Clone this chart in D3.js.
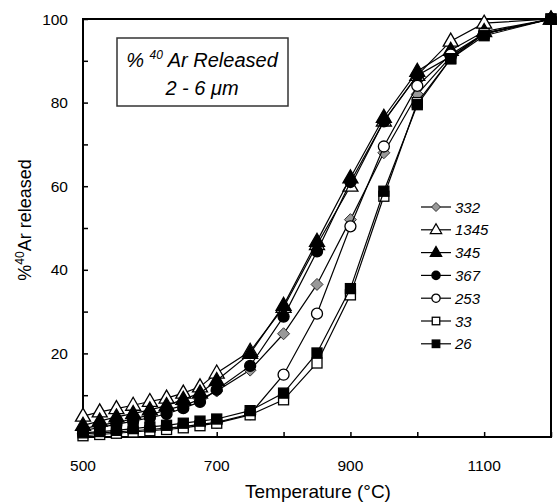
<!DOCTYPE html>
<html>
<head>
<meta charset="utf-8">
<script src="https://cdn.jsdelivr.net/npm/d3@7"></script>
<style>
  body { margin: 0; background: #fff; }
  svg { display: block; font-family: "Liberation Sans", Arial, sans-serif; }
</style>
</head>
<body>
<svg id="chart" width="557" height="502"></svg>
<script>
// temperatures of each heating step (°C)
const temps = [500, 525, 550, 575, 600, 625, 650, 675, 700, 750, 800, 850, 900, 950, 1000, 1050, 1100, 1200];

// cumulative % 40Ar released, one array per sample
const s332  = [2.0, 2.8, 3.5, 4.3, 5.3, 6.5, 7.5, 9.0, 11.0, 16.0, 24.7, 36.5, 52.0, 68.0, 82.0, 91.0, 96.5, 100];
const s1345 = [5.0, 6.0, 6.8, 7.6, 8.5, 9.3, 10.5, 12.0, 15.3, 20.5, 31.0, 46.0, 60.0, 75.6, 86.5, 94.7, 99.0, 100];
const s345  = [2.8, 3.8, 4.8, 5.6, 6.5, 7.5, 9.0, 10.5, 13.5, 20.0, 31.5, 46.8, 62.0, 76.5, 87.5, 92.5, 97.0, 100];
const s367  = [1.5, 2.3, 3.0, 3.8, 4.6, 5.5, 6.9, 8.4, 11.3, 17.0, 28.8, 44.4, 61.0, 75.5, 86.5, 91.0, 96.5, 100];
const s253  = [0.8, 1.0, 1.2, 1.5, 1.8, 2.1, 2.5, 3.0, 3.5, 5.5, 14.9, 29.5, 50.4, 69.5, 84.0, 91.5, 96.5, 100];
const s33   = [0.3, 0.6, 0.9, 1.2, 1.5, 1.8, 2.2, 2.7, 3.3, 5.3, 8.9, 17.7, 34.0, 57.6, 80.0, 90.5, 96.5, 100];
const s26   = [1.0, 1.3, 1.6, 2.0, 2.4, 2.8, 3.3, 3.8, 4.3, 6.3, 10.5, 20.1, 35.5, 58.8, 79.5, 90.5, 96.0, 100];

const seriesNames = ["332", "1345", "345", "367", "253", "33", "26"];
const seriesValues = [s332, s1345, s345, s367, s253, s33, s26];
const seriesMarkers = ["diamond", "triangleOpen", "triangleFilled", "circleFilled", "circleOpen", "squareOpen", "squareFilled"];

const xTicks = [500, 600, 700, 800, 900, 1000, 1100, 1200];
const xLabels = [500, 700, 900, 1100];
const yTicks = [0, 10, 20, 30, 40, 50, 60, 70, 80, 90, 100];
const yLabels = [20, 40, 60, 80, 100];

const svg = d3.select("#chart");
const mLeft = 83, mRight = 551, mTop = 19, mBottom = 437;

const x = d3.scaleLinear().domain([500, 1200]).range([mLeft, mRight]);
const y = d3.scaleLinear().domain([0, 100]).range([mBottom, mTop]);

// frame
svg.append("rect")
  .attr("x", mLeft).attr("y", mTop)
  .attr("width", mRight - mLeft).attr("height", mBottom - mTop)
  .attr("fill", "none").attr("stroke", "#000").attr("stroke-width", 2);

// ticks (inside)
svg.append("g")
  .attr("transform", `translate(0,${mBottom})`)
  .call(d3.axisBottom(x).tickValues(xTicks).tickSizeInner(-5).tickSizeOuter(0).tickFormat(""))
  .call(g => g.select(".domain").remove())
  .call(g => g.selectAll("line").attr("stroke-width", 1.5));

svg.append("g")
  .attr("transform", `translate(${mLeft},0)`)
  .call(d3.axisLeft(y).tickValues(yTicks).tickSizeInner(-5).tickSizeOuter(0).tickFormat(""))
  .call(g => g.select(".domain").remove())
  .call(g => g.selectAll("line").attr("stroke-width", 1.5));

// tick labels
svg.append("g").selectAll("text")
  .data(xLabels).enter().append("text")
    .attr("x", d => x(d))
    .attr("y", 471)
    .attr("text-anchor", "middle")
    .attr("font-size", 15.5)
    .text(d => d);

svg.append("g").selectAll("text")
  .data(yLabels).enter().append("text")
    .attr("x", 68)
    .attr("y", d => y(d) + 5.5)
    .attr("text-anchor", "end")
    .attr("font-size", 15.5)
    .text(d => d);

// axis titles
svg.append("text")
  .attr("x", 318).attr("y", 498)
  .attr("text-anchor", "middle")
  .attr("font-size", 19)
  .text("Temperature (°C)");

const yt = svg.append("text")
  .attr("transform", "translate(31,220) rotate(-90)")
  .attr("text-anchor", "middle")
  .attr("font-size", 18);
yt.append("tspan").text("%");
yt.append("tspan").attr("font-size", 12).attr("dy", -7).text("40");
yt.append("tspan").attr("dy", 7).text("Ar released");

// marker drawing
function drawMarker(sel, type, s) {
  const k = s || 1;
  if (type === "diamond") {
    sel.append("path")
      .attr("d", `M0,${-6*k}L${6*k},0L0,${6*k}L${-6*k},0Z`)
      .attr("fill", "#999").attr("stroke", "#333").attr("stroke-width", 1);
  } else if (type === "triangleOpen" || type === "triangleFilled") {
    sel.append("path")
      .attr("d", `M0,${-8*k}L${7.5*k},${5*k}L${-7.5*k},${5*k}Z`)
      .attr("fill", type === "triangleOpen" ? "#fff" : "#000")
      .attr("stroke", "#000").attr("stroke-width", 1.3);
  } else if (type === "circleOpen" || type === "circleFilled") {
    sel.append("circle")
      .attr("r", 5.5 * k)
      .attr("fill", type === "circleOpen" ? "#fff" : "#000")
      .attr("stroke", "#000").attr("stroke-width", 1.3);
  } else {
    sel.append("rect")
      .attr("x", -5 * k).attr("y", -5 * k)
      .attr("width", 10 * k).attr("height", 10 * k)
      .attr("fill", type === "squareOpen" ? "#fff" : "#000")
      .attr("stroke", "#000").attr("stroke-width", 1.3);
  }
}

const line = d3.line().x(d => x(d[0])).y(d => y(d[1]));

seriesValues.forEach((vals, i) => {
  const pts = temps.map((t, j) => [t, vals[j]]);
  const g = svg.append("g");
  g.append("path")
    .attr("d", line(pts))
    .attr("fill", "none").attr("stroke", "#000").attr("stroke-width", 1.2);
  g.selectAll("g.m")
    .data(pts).enter().append("g")
      .attr("class", "m")
      .attr("transform", d => `translate(${x(d[0])},${y(d[1])})`)
      .each(function () { drawMarker(d3.select(this), seriesMarkers[i], 1); });
});

// legend
const legend = svg.append("g");
seriesNames.forEach((name, i) => {
  const ly = 207 + i * 22.8;
  const item = legend.append("g").attr("transform", `translate(0,${ly})`);
  item.append("line")
    .attr("x1", 421).attr("x2", 451)
    .attr("stroke", "#000").attr("stroke-width", 1.2);
  const m = item.append("g").attr("transform", "translate(436,0)");
  drawMarker(m, seriesMarkers[i], 0.75);
  item.append("text")
    .attr("x", 455).attr("y", 5.5)
    .attr("font-size", 15).attr("font-style", "italic")
    .text(name);
});

// title box
svg.append("rect")
  .attr("x", 117).attr("y", 38)
  .attr("width", 171).attr("height", 68)
  .attr("fill", "#fff").attr("stroke", "#333").attr("stroke-width", 1.5);

const t1 = svg.append("text")
  .attr("x", 202).attr("y", 67)
  .attr("text-anchor", "middle")
  .attr("font-size", 20).attr("font-style", "italic");
t1.append("tspan").text("% ");
t1.append("tspan").attr("font-size", 12).attr("dy", -8).text("40");
t1.append("tspan").attr("dy", 8).text(" Ar Released");

svg.append("text")
  .attr("x", 202).attr("y", 95)
  .attr("text-anchor", "middle")
  .attr("font-size", 20).attr("font-style", "italic")
  .text("2 - 6  μm");
</script>
</body>
</html>
